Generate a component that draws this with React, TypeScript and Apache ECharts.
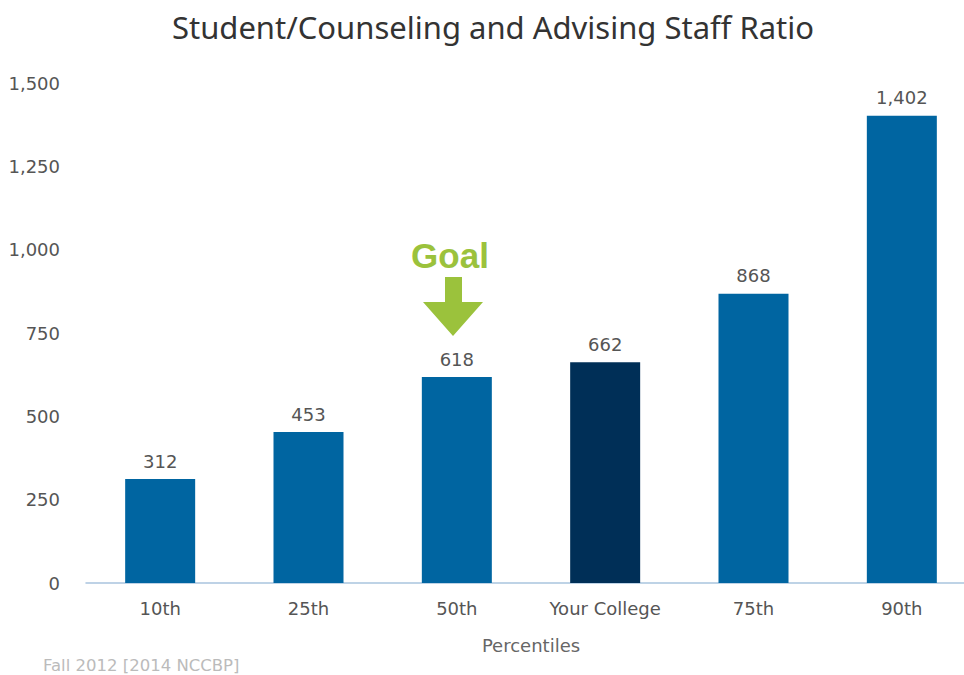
import React, { useEffect, useRef } from "react";
import * as echarts from "echarts";

const categories = ["10th", "25th", "50th", "Your College", "75th", "90th"];
const values = [312, 453, 618, 662, 868, 1402];
const highlightCategory = "Your College";
const yTicks = [0, 250, 500, 750, 1000, 1250, 1500];

const TITLE_FONT = "'Noto Sans', 'DejaVu Sans', sans-serif";
const FONT = "'DejaVu Sans', 'Noto Sans', sans-serif";

export default function App() {
  const ref = useRef<HTMLDivElement>(null);
  useEffect(() => {
    if (!ref.current) return;
    const chart = echarts.init(ref.current, null, { renderer: "svg" });
    chart.setOption({
      animation: false,
      backgroundColor: "#ffffff",
      title: {
        text: "Student/Counseling and Advising Staff Ratio",
        left: 488,
        textAlign: "center",
        top: 6,
        textStyle: { fontFamily: TITLE_FONT, fontSize: 31, fontWeight: "normal", color: "#333333" },
      },
      grid: { left: 86, right: 0, top: 83, bottom: 92 },
      xAxis: {
        type: "category",
        data: categories,
        axisLine: { lineStyle: { color: "#a9c4de", width: 1.5 } },
        axisTick: { show: false },
        axisLabel: { color: "#555555", fontSize: 18, fontFamily: FONT, margin: 16 },
        name: "Percentiles",
        nameLocation: "middle",
        nameGap: 53,
        nameTextStyle: { color: "#666666", fontSize: 18, fontFamily: FONT },
      },
      yAxis: {
        type: "value",
        min: yTicks[0],
        max: yTicks[yTicks.length - 1],
        interval: 250,
        splitLine: { show: false },
        axisLine: { show: false },
        axisTick: { show: false },
        axisLabel: {
          color: "#555555",
          fontSize: 18,
          fontFamily: FONT,
          margin: 26,
          formatter: (v: number) => v.toLocaleString("en-US"),
        },
      },
      series: [
        {
          type: "bar",
          barWidth: 70,
          data: values.map((v, i) => ({
            value: v,
            itemStyle: { color: categories[i] === highlightCategory ? "#002f57" : "#0065a1" },
          })),
          label: {
            show: true,
            position: "top",
            distance: 9,
            color: "#555555",
            fontSize: 18,
            fontFamily: FONT,
            formatter: (p: any) => Number(p.value).toLocaleString("en-US"),
          },
        },
      ],
      graphic: [
        {
          type: "text",
          x: 450,
          y: 255,
          style: {
            text: "Goal",
            fontFamily: "'Liberation Sans', Arial, sans-serif",
            fontWeight: "bold",
            fontSize: 35,
            fill: "#9bc23c",
            textAlign: "center",
            textVerticalAlign: "middle",
          },
        },
        {
          type: "polygon",
          shape: {
            points: [
              [445, 277],
              [462, 277],
              [462, 302],
              [483, 302],
              [453, 336],
              [423, 302],
              [445, 302],
            ],
          },
          style: { fill: "#9bc23c" },
        },
        {
          type: "text",
          x: 43,
          y: 665,
          style: {
            text: "Fall 2012 [2014 NCCBP]",
            fontFamily: FONT,
            fontSize: 16.5,
            fill: "#bbbbbb",
            textVerticalAlign: "middle",
          },
        },
      ],
    });
    return () => chart.dispose();
  }, []);
  return (
    <div style={{ position: "absolute", left: 0, top: 0, width: 964, height: 675, overflow: "hidden" }}>
      <div ref={ref} style={{ width: 976, height: 675 }} />
    </div>
  );
}
